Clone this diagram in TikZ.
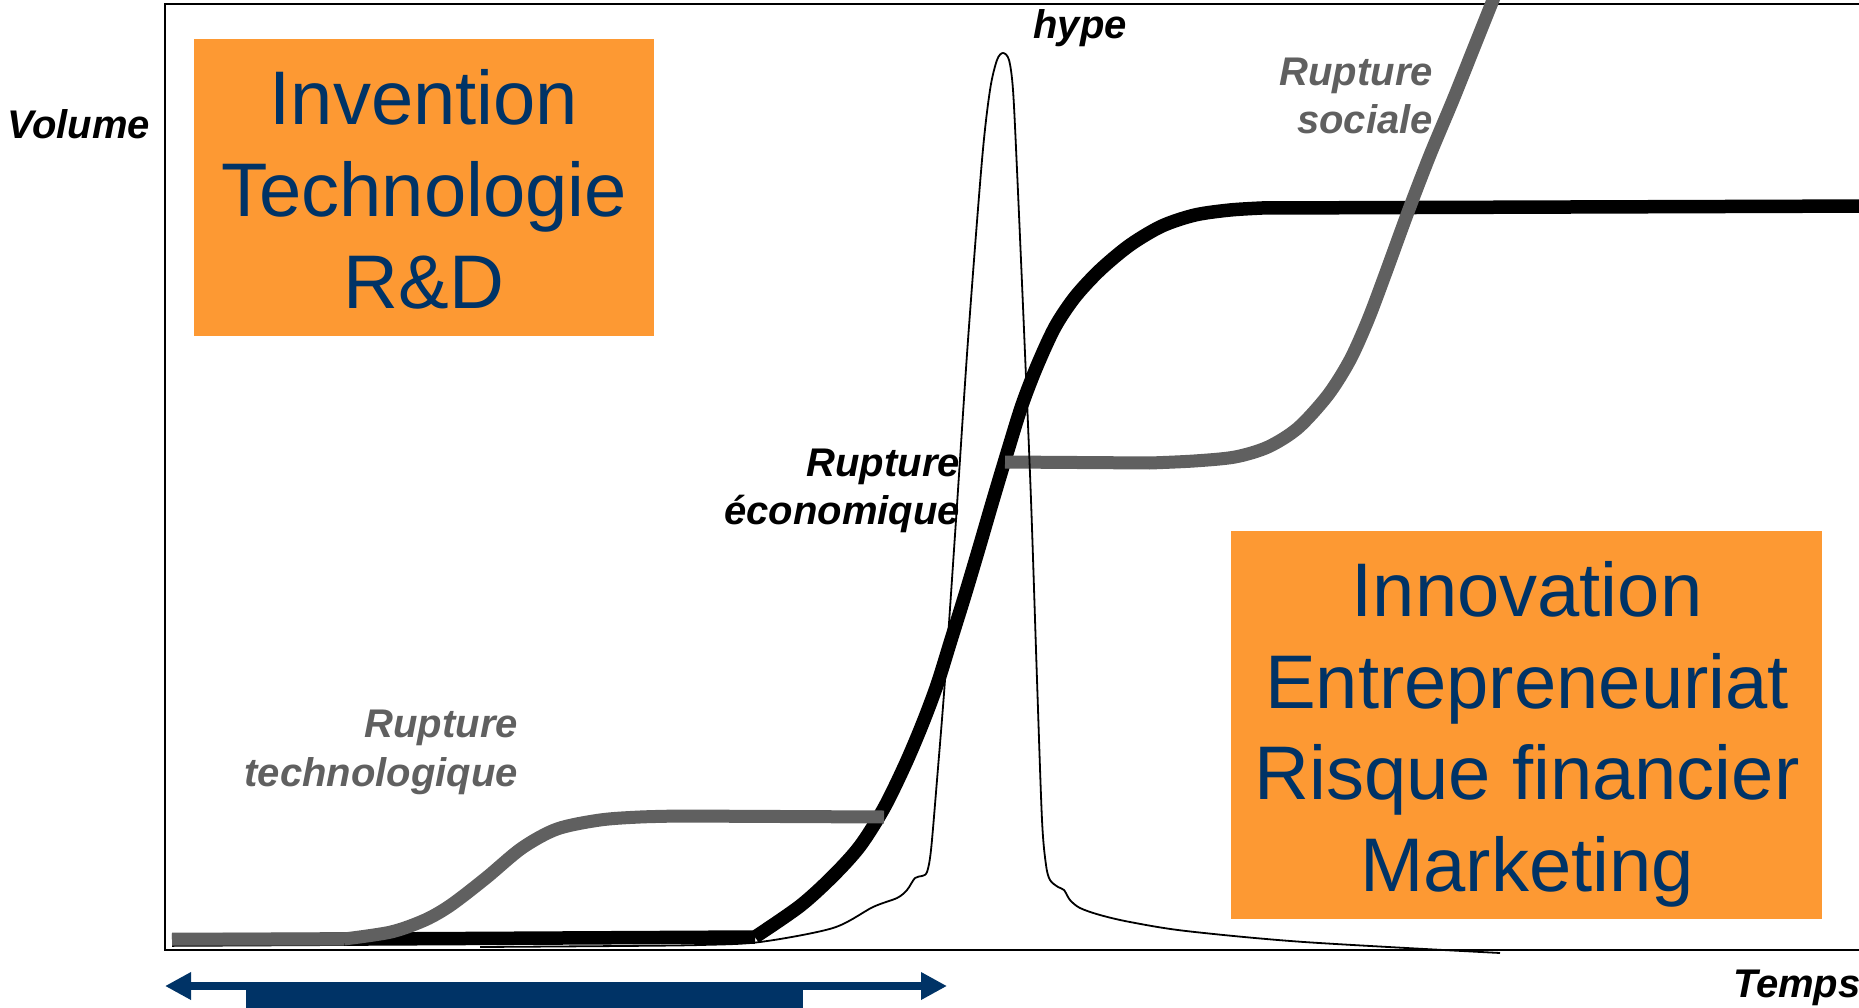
\documentclass[tikz,border=0pt]{standalone}
\usepackage{fontspec}
\setmainfont{Liberation Sans}
\usetikzlibrary{arrows.meta}
\definecolor{orangebox}{HTML}{FD9933}
\definecolor{navy}{HTML}{003366}
\definecolor{curvegray}{HTML}{606060}
\begin{document}
\begin{tikzpicture}[x=1pt,y=-1pt,
 obox/.style={fill=orangebox, draw=none, inner sep=0pt, rectangle},
 boxtext/.style={text=navy, inner sep=0pt, font=\fontsize{76}{91}\selectfont},
 lbl/.style={inner sep=0pt, font=\fontsize{40}{48}\selectfont\bfseries\itshape},
 glbl/.style={lbl, text=curvegray},
 ecocurve/.style={line width=13.5pt, black, line join=round},
 graycurve/.style={line width=13pt, curvegray, line join=round},
 hypecurve/.style={line width=1.8pt, black, line join=round},
 navyarrow/.style={navy, line width=8pt, {Triangle[length=26pt,width=26pt]}-{Triangle[length=26pt,width=26pt]}},
]
\useasboundingbox (0,0) rectangle (1859,1008);
\clip (0,0) rectangle (1859,1008);

% frame (axes)
\draw[line width=2.5pt] (165,4) rectangle (1880,950);

% orange boxes
\node[obox, minimum width=460pt, minimum height=297pt] (inv) at (424,187.5) {};
\node[boxtext, anchor=base] (inv1) at (424,125) {Invention};
\node[boxtext, anchor=base] (inv2) at (424,217) {Technologie};
\node[boxtext, anchor=base] (inv3) at (424,308) {R\&D};

\node[obox, minimum width=591pt, minimum height=388pt] (inn) at (1526.5,725) {};
\node[boxtext, anchor=base] (inn1) at (1527,616) {Innovation};
\node[boxtext, anchor=base] (inn2) at (1527,708) {Entrepreneuriat};
\node[boxtext, anchor=base] (inn3) at (1527,799) {Risque financier};
\node[boxtext, anchor=base] (inn4) at (1527,891) {Marketing};

% economic S-curve
\draw[ecocurve] (172,940) -- (755,937)
  plot[smooth, tension=0.5] coordinates {(755,937) (800,906) (833,876) (860,846) (884,808) (905,765) (922,725) (937,685) (951,640) (965,595) (979,548) (993,500) (1008,450) (1022,405) (1037,366) (1055,327) (1075,297) (1100,270) (1130,245) (1162,226) (1195,215) (1230,210) (1262,208)}
  -- (1880,206);

% technological rupture curve
\draw[graycurve] (172,939) -- (344,939)
  plot[smooth, tension=0.5] coordinates {(344,939) (391,932) (425,920) (451,905) (486,878) (522,848) (557,829) (600,820) (640,817) (680,816)}
  -- (884,817);

% social rupture curve
\draw[graycurve] (1005,462) -- (1150,463)
  plot[smooth, tension=0.5] coordinates {(1150,463) (1194,461) (1235,457) (1268,447) (1298,428) (1328,395) (1350,360) (1368,320) (1385,275) (1408,212) (1430,155) (1453,100) (1475,45) (1497,-10)};

% hype curve
\draw[hypecurve] plot[smooth, tension=0.5] coordinates {(480,947) (620,946) (700,945) (760,942) (833,928) (873,907) (897,898) (907,890) (915,878) (922,876) (927,872) (931,850) (937,780) (945,680) (956,520) (968,340) (982,160) (990,90) (997,60) (1003,53) (1009,60) (1013,90) (1017,170) (1024,330) (1031,500) (1037,680) (1042,820) (1046,865) (1050,880) (1058,887) (1064,890) (1070,900) (1080,908) (1100,915) (1130,922) (1186,931) (1304,942) (1500,953)};

% labels
\node[lbl, anchor=base west] (vol) at (7,139) {Volume};
\node[lbl, anchor=base west] (temps) at (1733,997) {Temps};
\node[lbl, anchor=base] (hype) at (1080,39) {hype};
\node[glbl, anchor=base east] (rs1) at (1433,86) {Rupture};
\node[glbl, anchor=base east] (rs2) at (1433,134) {sociale};
\node[lbl, anchor=base east] (re1) at (960,476) {Rupture};
\node[lbl, anchor=base east] (re2) at (960,524) {économique};
\node[glbl, anchor=base east] (rt1) at (518,737) {Rupture};
\node[glbl, anchor=base east] (rt2) at (518,786) {technologique};

% bottom time arrow and bar
\coordinate (al) at (165,986);
\coordinate (ar) at (947,986);
\node[fill=navy, inner sep=0pt, minimum width=557pt, minimum height=32pt, anchor=north west] (bar) at (246,982) {};
\draw[navyarrow] (al) -- (ar);
\end{tikzpicture}
\end{document}
